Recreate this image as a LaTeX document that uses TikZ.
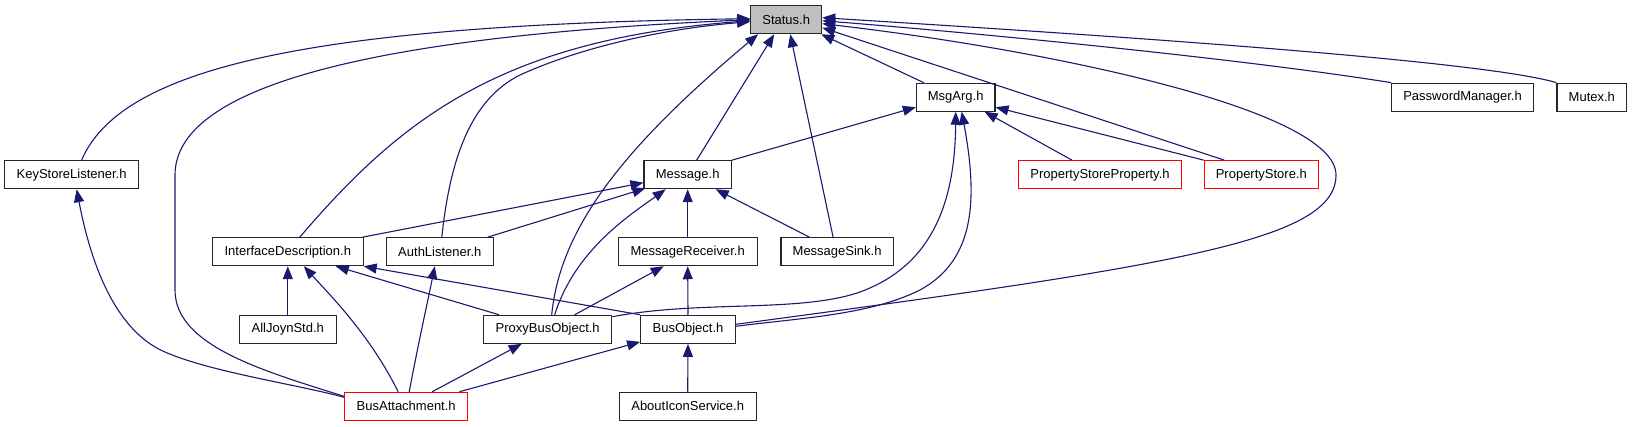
\documentclass[tikz,border=0pt]{standalone}
\usepackage{fontspec}
\setmainfont{Liberation Sans}
\usetikzlibrary{arrows.meta,calc}
\definecolor{edgeblue}{HTML}{191970}
\definecolor{boxgray}{HTML}{BFBFBF}
\begin{document}
\begin{tikzpicture}[x=1pt,y=-1pt,
  box/.style={draw=black!85,line width=1.1pt,minimum height=28pt,inner xsep=2pt,inner ysep=0pt,
    font=\fontsize{13}{15}\selectfont,fill=white},
  redbox/.style={box,draw=red},
  dep/.style={draw=edgeblue,line width=1.1pt,-{Triangle[length=13pt,width=10pt]}}]
\useasboundingbox (0,0) rectangle (1632,427);
% nodes
\node[box,fill=boxgray,minimum width=71pt] (st) at (786.2,19.7) {Status.h};
\node[box,minimum width=78.6pt] (ma) at (955.7,97.2) {MsgArg.h};
\node[box,minimum width=141.8pt] (pm) at (1462.5,97.2) {PasswordManager.h};
\node[box,minimum width=69.7pt] (mx) at (1591.8,97.2) {Mutex.h};
\node[box,minimum width=134pt] (ksl) at (71.6,174.7) {KeyStoreListener.h};
\node[box,minimum width=87.5pt] (msg) at (687.7,174.7) {Message.h};
\node[redbox,minimum width=163pt] (psp) at (1100,174.7) {PropertyStoreProperty.h};
\node[redbox,minimum width=114pt] (ps) at (1261.3,174.7) {PropertyStore.h};
\node[box,minimum width=150.7pt] (idesc) at (287.8,251.7) {InterfaceDescription.h};
\node[box,minimum width=106.8pt] (al) at (439.8,251.7) {AuthListener.h};
\node[box,minimum width=139pt] (mr) at (687.7,251.7) {MessageReceiver.h};
\node[box,minimum width=112.2pt] (ms) at (837.1,251.7) {MessageSink.h};
\node[box,minimum width=97pt] (ajs) at (287.8,329.3) {AllJoynStd.h};
\node[box,minimum width=128.2pt] (pbo) at (547.7,329.3) {ProxyBusObject.h};
\node[box,minimum width=94.7pt] (bo) at (688,329.3) {BusObject.h};
\node[redbox,minimum width=123.3pt] (ba) at (406.2,406.3) {BusAttachment.h};
\node[box,minimum width=136.8pt] (ais) at (687.7,406.3) {AboutIconService.h};
% edges to Status.h
\draw[dep] ($(ksl.north)+(10,0)$) .. controls (120,70) and (300,25) .. ($(st.west)+(0,-1)$);
\draw[dep] ($(ba.west)+(0,-10)$) .. controls (260,370) and (175,345) .. (175,290) -- (175,175) .. controls (175,80) and (400,35) .. ($(st.west)+(0,0)$);
\draw[dep] ($(idesc.north)+(12,0)$) .. controls (400,120) and (500,40) .. ($(st.west)+(0,1)$);
\draw[dep] ($(al.north)+(2,0)$) .. controls (450,160) and (470,100) .. (520,75) .. controls (570,52) and (650,30) .. ($(st.west)+(0,2)$);
\draw[dep] ($(pbo.north)+(4,0)$) .. controls (560,230) and (620,150) .. ($(st.south west)+(8,0)$);
\draw[dep] ($(msg.north)+(9,0)$) -- ($(st.south)+(-12,0)$);
\draw[dep] ($(ms.north)+(-4,0)$) -- ($(st.south)+(4,0)$);
\draw[dep] ($(ma.north)+(-32,0)$) -- ($(st.south east)+(-1,0)$);
\draw[dep] ($(ps.north)+(-37,0)$) -- ($(st.east)+(0,8)$);
\draw[dep] ($(bo.east)+(0,-5)$) .. controls (1180,265) and (1336,240) .. (1336,175) .. controls (1336,110) and (1050,50) .. ($(st.east)+(0,4)$);
\draw[dep] (pm.north west) .. controls (1250,60) and (1000,35) .. ($(st.east)+(0,1)$);
\draw[dep] (mx.north west) .. controls (1480,60) and (1100,35) .. ($(st.east)+(0,-2)$);
% edges to MsgArg.h
\draw[dep] (msg.north east) -- ($(ma.west)+(0,10)$);
\draw[dep] ($(psp.north)+(-28,0)$) -- ($(ma.south east)+(-11,0)$);
\draw[dep] (ps.north west) -- ($(ma.east)+(0,10)$);
\draw[dep] ($(pbo.north east)+(0,2)$) .. controls (700,300) and (800,313) .. (860,292) .. controls (920,270) and (955,220) .. ($(ma.south)+(0,0)$);
\draw[dep] ($(bo.east)+(0,-3)$) .. controls (800,318) and (870,315) .. (920,290) .. controls (975,260) and (978,200) .. ($(ma.south)+(6,0)$);
% edges to KeyStoreListener.h
\draw[dep] ($(ba.west)+(0,-9)$) .. controls (300,385) and (210,372) .. (165,352) .. controls (125,335) and (95,285) .. ($(ksl.south)+(5,0)$);
% edges to Message.h
\draw[dep] ($(idesc.north east)+(-1,0)$) -- ($(msg.west)+(0,8)$);
\draw[dep] ($(al.north east)+(-6,0)$) -- ($(msg.south west)+(2,-1)$);
\draw[dep] ($(pbo.north)+(7,0)$) .. controls (575,250) and (630,215) .. ($(msg.south)+(-22,0)$);
\draw[dep] (mr.north) -- (msg.south);
\draw[dep] ($(ms.north west)+(29,0)$) -- ($(msg.south)+(28,0)$);
% edges to InterfaceDescription.h
\draw[dep] (ajs.north) -- (idesc.south);
\draw[dep] ($(ba.north)+(-8,0)$) .. controls (370,335) and (330,295) .. ($(idesc.south)+(16,0)$);
\draw[dep] ($(pbo.north west)+(16,0)$) -- ($(idesc.south)+(48,0)$);
\draw[dep] (bo.north west) -- ($(idesc.south east)+(0,0)$);
% edges to AuthListener.h
\draw[dep] ($(ba.north)+(3,0)$) .. controls (418,345) and (428,300) .. ($(al.south)+(-5,0)$);
% edges to MessageReceiver.h
\draw[dep] ($(pbo.north)+(27,0)$) -- ($(mr.south)+(-24,0)$);
\draw[dep] (bo.north) -- (mr.south);
% edges to ProxyBusObject.h and BusObject.h
\draw[dep] ($(ba.north)+(26,0)$) -- ($(pbo.south)+(-26,0)$);
\draw[dep] ($(ba.north east)+(-9,0)$) -- ($(bo.south west)+(0,-2)$);
\draw[dep] (ais.north) -- (bo.south);
\end{tikzpicture}
\end{document}
